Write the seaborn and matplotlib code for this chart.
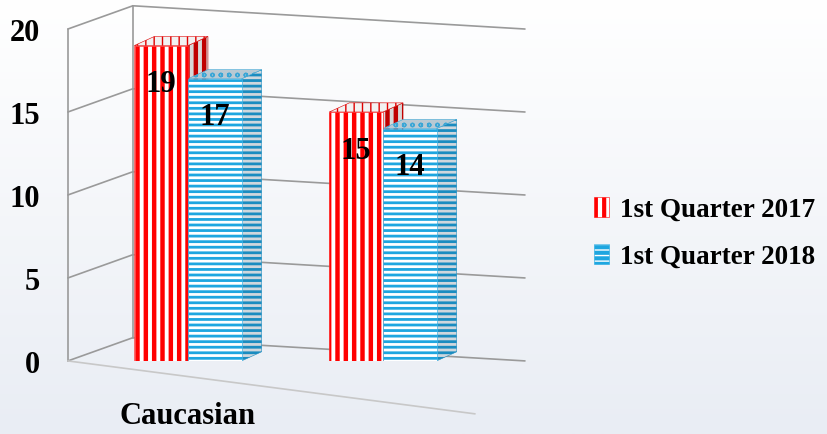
import numpy as np
import pandas as pd
import matplotlib
matplotlib.use("Agg")
import matplotlib.pyplot as plt
from matplotlib.patches import Polygon, Patch
from matplotlib.colors import LinearSegmentedColormap
import seaborn as sns

# data
categories = ["Caucasian", " "]
tick_labels = ["Caucasian", ""]
series = ["1st Quarter 2017", "1st Quarter 2018"]
q1_2017 = [19, 15]
q1_2018 = [17, 14]
y_ticks = [0, 5, 10, 15, 20]

df = pd.DataFrame({
    "group": categories * 2,
    "quarter": [series[0]] * len(categories) + [series[1]] * len(categories),
    "value": q1_2017 + q1_2018,
})

red = "#ff0000"
blue = "#1ea6e0"
grid_col = "#9a9a9a"

sns.set_theme(style="white")
plt.rcParams["font.family"] = ["Liberation Serif", "DejaVu Serif"]
plt.rcParams["font.weight"] = "bold"
plt.rcParams["hatch.linewidth"] = 3.0
plt.rcParams["text.color"] = "black"
plt.rcParams["xtick.color"] = "black"
plt.rcParams["ytick.color"] = "black"

fig = plt.figure(figsize=(8.28, 4.35), dpi=100)

# soft background gradient
bg = fig.add_axes([0, 0, 1, 1], zorder=-10)
cmap = LinearSegmentedColormap.from_list("bg", ["#ffffff", "#e9edf4"])
bg.imshow(np.linspace(0, 1, 256).reshape(-1, 1), aspect="auto", cmap=cmap,
          extent=[0, 1, 0, 1])
bg.axis("off")

ax = fig.add_axes([0.082, 0.168, 0.552, 0.763])
ax.patch.set_alpha(0)
sns.barplot(data=df, x="group", y="value", hue="quarter", order=categories,
            hue_order=series, palette=[red, blue], width=0.55, saturation=1,
            legend=False, ax=ax)

xl, xr = -0.615, 1.728
ax.set_xlim(xl, xr)
ax.set_ylim(0, 20)

# depth of bars and walls (data units)
bdx, bdy = 0.103, 0.55
wdx, wdy = 0.333, 1.4

styles = [
    dict(hatch="||", color=red, lw=3.2, side_face="#d8d8d8", side_color="#c00000",
         top_face="#f2f2f2", top_color="#e00000", top_hatch="||"),
    dict(hatch="---", color=blue, lw=2.0, side_face="#cfd7dd", side_color="#1a8cc0",
         top_face="#b9c9d3", top_color="#3aa6d6", top_hatch="oo"),
]

def set_hlw(p, lw):
    if hasattr(p, "set_hatch_linewidth"):
        p.set_hatch_linewidth(lw)

for cont, st in zip(ax.containers, styles):
    for p in cont:
        p.set_facecolor("white")
        p.set_edgecolor(st["color"])
        p.set_linewidth(0.4)
        p.set_hatch(st["hatch"])
        set_hlw(p, st["lw"])
        x0, w, h = p.get_x(), p.get_width(), p.get_height()
        side = Polygon([(x0 + w, 0), (x0 + w + bdx, bdy), (x0 + w + bdx, h + bdy), (x0 + w, h)],
                       closed=True, facecolor=st["side_face"], edgecolor=st["side_color"],
                       hatch=st["hatch"], linewidth=0.4, zorder=0.9)
        top = Polygon([(x0, h), (x0 + bdx, h + bdy), (x0 + w + bdx, h + bdy), (x0 + w, h)],
                      closed=True, facecolor=st["top_face"], edgecolor=st["top_color"],
                      hatch=st["top_hatch"], linewidth=0.4, zorder=0.9, clip_on=False)
        set_hlw(side, st["lw"])
        set_hlw(top, 1.0)
        ax.add_patch(side)
        ax.add_patch(top)
        ax.text(x0 + w / 2, h - 2.3, f"{h:g}", ha="center", va="center",
                fontsize=22, fontweight="bold", color="black", zorder=5)

# fake 3D walls: back-wall gridlines, left-wall lines, floor edge
for v in y_ticks:
    ax.plot([xl + wdx, xr], [v + wdy, v], color=grid_col, lw=1.2, zorder=0.5, clip_on=False)
    ax.plot([xl, xl + wdx], [v, v + wdy], color=grid_col, lw=1.2, zorder=0.5, clip_on=False)
ax.plot([xl, xl], [0, 20], color=grid_col, lw=1.2, zorder=0.5, clip_on=False)
ax.plot([xl + wdx, xl + wdx], [wdy, 20 + wdy], color=grid_col, lw=1.2, zorder=0.5, clip_on=False)
ax.plot([xl, 1.472], [0, -3.19], color="#c8c8c8", lw=1.2, zorder=0.5, clip_on=False)

for s in ax.spines.values():
    s.set_visible(False)
ax.grid(False)
ax.set_xlabel("")
ax.set_ylabel("")
ax.set_yticks(y_ticks)
ax.set_yticklabels([str(t) for t in y_ticks], fontsize=22, fontweight="bold")
ax.set_xticks(range(len(categories)))
ax.set_xticklabels(tick_labels, fontsize=22, fontweight="bold")
ax.tick_params(axis="y", length=0, pad=20)
ax.tick_params(axis="x", length=0, pad=29)

handles = []
for st, name in zip(styles, series):
    hp = Patch(facecolor="white", edgecolor=st["color"], hatch=st["hatch"], linewidth=0.4, label=name)
    set_hlw(hp, st["lw"])
    handles.append(hp)
fig.legend(handles=handles, loc="center left", bbox_to_anchor=(0.688, 0.462),
           frameon=False, handlelength=0.55, handleheight=0.75,
           handletextpad=0.4, labelspacing=0.8,
           prop={"family": ["Liberation Serif"], "weight": "bold", "size": 19.5})

fig.savefig("out.png", dpi=100)
